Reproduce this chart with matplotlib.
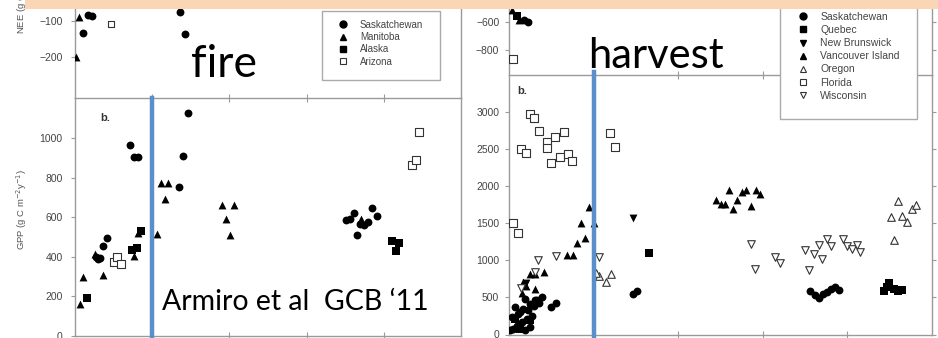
import matplotlib
matplotlib.use("Agg")
import matplotlib.pyplot as plt
from matplotlib.lines import Line2D
from matplotlib.patches import Rectangle

W, H = 938, 338

# ---------------- data: fire (left) ----------------
fire_nee_sask_x = [0.17, 0.22, 0.10, 1.36, 1.42]
fire_nee_sask_y = [-83, -86, -133, -75, -136]
fire_nee_mani_x = [0.05, 0.01]
fire_nee_mani_y = [-89, -200]
fire_nee_ariz_x = [0.47]
fire_nee_ariz_y = [-108]

fire_gpp_sask_x = [0.27, 0.30, 0.33, 0.36, 0.41, 0.71, 0.76, 0.81, 1.35, 1.40, 1.46,
                   3.51, 3.56, 3.61, 3.65, 3.69, 3.74, 3.79, 3.85, 3.91]
fire_gpp_sask_y = [400, 390, 395, 454, 497, 963, 903, 903, 751, 907, 1127,
                   585, 590, 619, 508, 564, 559, 576, 644, 605]
fire_gpp_mani_x = [0.065, 0.11, 0.36, 0.26, 0.76, 0.82, 1.06, 1.11, 1.16, 1.21,
                   1.90, 1.96, 2.01, 2.06, 3.71]
fire_gpp_mani_y = [161, 297, 310, 412, 402, 520, 513, 771, 690, 775,
                   664, 593, 508, 664, 593]
fire_gpp_alas_x = [0.16, 0.74, 0.80, 0.86, 4.10, 4.16, 4.20]
fire_gpp_alas_y = [192, 432, 444, 528, 478, 429, 471]
fire_gpp_ariz_x = [0.51, 0.54, 0.59, 4.36, 4.42, 4.46]
fire_gpp_ariz_y = [373, 398, 364, 864, 890, 1030]

fire_legend = ["Saskatchewan", "Manitoba", "Alaska", "Arizona"]

# ---------------- data: harvest (right) ----------------
harv_nee_sask_x = [0.18, 0.22]
harv_nee_sask_y = [-590, -600]
harv_nee_queb_x = [0.10]
harv_nee_queb_y = [-560]
harv_nee_vanc_x = [0.04, 0.12]
harv_nee_vanc_y = [-520, -590]
harv_nee_flor_x = [0.05]
harv_nee_flor_y = [-864]

harv_gpp_sask_x = [0.01, 0.05, 0.09, 0.15, 0.19, 0.21, 0.25, 0.11, 0.17, 0.25, 0.31, 0.39,
                   0.07, 0.03, 0.19, 0.27, 0.33, 0.50, 0.56, 0.13, 0.23, 0.29, 0.35,
                   1.46, 1.51,
                   3.56, 3.62, 3.66, 3.71, 3.76, 3.81, 3.85, 3.90]
harv_gpp_sask_y = [54, 76, 121, 166, 54, 211, 99, 279, 346, 404, 458, 503,
                   368, 234, 472, 247, 462, 373, 418, 300, 330, 380, 420,
                   539, 584,
                   584, 526, 494, 539, 570, 615, 638, 593]
harv_gpp_queb_x = [0.07, 0.13, 0.25, 1.65, 4.43, 4.47, 4.49, 4.55, 4.60, 4.65]
harv_gpp_queb_y = [211, 76, 189, 1096, 584, 640, 692, 615, 584, 602]
harv_gpp_nbru_x = [0.20, 1.46]
harv_gpp_nbru_y = [700, 1572]
harv_gpp_vanc_x = [0.15, 0.20, 0.25, 0.31, 0.41, 0.31, 0.17, 0.68, 0.76, 0.80, 0.90, 0.85,
                   0.95, 1.00, 2.45, 2.51, 2.55, 2.60, 2.65, 2.70, 2.75, 2.80, 2.86, 2.92, 2.97]
harv_gpp_vanc_y = [557, 650, 818, 818, 845, 607, 710, 1065, 1065, 1231, 1303, 1501,
                   1717, 1500, 1806, 1761, 1752, 1950, 1693, 1806, 1918, 1940, 1725, 1950, 1887]
harv_gpp_oreg_x = [1.06, 1.15, 1.21, 1.03, 4.51, 4.55, 4.60, 4.65, 4.71, 4.76, 4.81]
harv_gpp_oreg_y = [782, 706, 809, 830, 1581, 1267, 1797, 1594, 1514, 1693, 1747]
harv_gpp_flor_x = [0.25, 0.30, 0.35, 0.14, 0.20, 0.45, 0.45, 0.54, 0.65, 0.50, 0.60, 0.70,
                   0.75, 0.05, 0.11, 1.19, 1.25]
harv_gpp_flor_y = [2968, 2910, 2743, 2492, 2447, 2595, 2505, 2662, 2730, 2303, 2393, 2429,
                   2335, 1495, 1369, 2718, 2525]
harv_gpp_wisc_x = [0.14, 0.31, 0.34, 0.55, 1.06, 2.86, 2.91, 3.14, 3.20, 3.50, 3.55, 3.60,
                   3.66, 3.70, 3.76, 3.81, 3.95, 4.00, 4.05, 4.11, 4.15]
harv_gpp_wisc_y = [629, 845, 998, 1051, 1040, 1222, 877, 1042, 961, 1141, 871, 1087,
                   1200, 1020, 1289, 1186, 1289, 1186, 1155, 1200, 1110]

harv_legend = ["Saskatchewan", "Quebec", "New Brunswick", "Vancouver Island",
               "Oregon", "Florida", "Wisconsin"]

fire_yticks_top = [-200, -100]
fire_yticks_bot = [0, 200, 400, 600, 800, 1000]
harv_yticks_top = [-800, -600]
harv_yticks_bot = [0, 500, 1000, 1500, 2000, 2500, 3000]

# ---------------- figure ----------------
fig = plt.figure(figsize=(W / 100, H / 100), dpi=100)
fig.patch.set_facecolor("white")

def fx(px):
    return px / W

def fy(py):
    return 1 - py / H

def box(l, t, r, b):
    return [fx(l), fy(b), fx(r) - fx(l), fy(t) - fy(b)]

SPINE = "#9a9a9a"
LAB = "#444444"
TFONT = ["Liberation Sans", "DejaVu Sans"]

def style(ax):
    for s in ax.spines.values():
        s.set_color(SPINE)
        s.set_linewidth(1.0)
    ax.tick_params(colors=SPINE, labelcolor=LAB, labelsize=7.5, length=3, width=0.8)
    for lab in ax.get_yticklabels():
        lab.set_family(TFONT)
    ax.set_facecolor("none")

FILL = dict(color="black", s=32, linewidths=0, zorder=3)
OPEN = dict(facecolors="white", edgecolors="#333333", s=30, linewidths=0.8, zorder=3)

# left top (NEE fire)
axLT = fig.add_axes(box(75, -2, 461, 98))
axLT.set_xlim(0, 5)
axLT.set_ylim(-316, -36)
axLT.scatter(fire_nee_sask_x, fire_nee_sask_y, marker="o", **FILL)
axLT.scatter(fire_nee_mani_x, fire_nee_mani_y, marker="^", **FILL)
axLT.scatter(fire_nee_ariz_x, fire_nee_ariz_y, marker="s", **{**OPEN, "s": 22})
axLT.set_yticks(fire_yticks_top)
axLT.set_xticks([])
axLT.spines["bottom"].set_visible(False)
style(axLT)
axLT.tick_params(axis="y", pad=6)

# left bottom (GPP fire)
axLB = fig.add_axes(box(75, 98, 461, 336))
axLB.set_xlim(0, 5)
axLB.set_ylim(0, 1202)
axLB.scatter(fire_gpp_sask_x, fire_gpp_sask_y, marker="o", **FILL)
axLB.scatter(fire_gpp_mani_x, fire_gpp_mani_y, marker="^", **FILL)
axLB.scatter(fire_gpp_alas_x, fire_gpp_alas_y, marker="s", **{**FILL, "s": 26})
axLB.scatter(fire_gpp_ariz_x, fire_gpp_ariz_y, marker="s", **{**OPEN, "s": 26})
axLB.set_yticks(fire_yticks_bot)
axLB.set_xticks([1, 2, 3, 4])
axLB.set_xticklabels([])
style(axLB)
axLB.tick_params(axis="x", direction="inout", top=True, length=6)
axLB.tick_params(axis="y", pad=6)
axLB.axvline(1, ymin=-0.02, ymax=1.0, color="#5b8fca", lw=3.2, zorder=4, clip_on=False)
axLB.text(0.065, 0.905, "b.", transform=axLB.transAxes, fontsize=8, color="#333333",
          family=TFONT, fontweight="bold")

fig.text(fx(22), fy(210), "GPP (g C m$^{-2}$y$^{-1}$)", rotation=90, ha="center", va="center",
         fontsize=6.8, color="#555555", family=TFONT)
fig.text(fx(22), fy(34), "NEE (g C m$^{-2}$y$^{-1}$)", rotation=90, ha="center", va="bottom",
         fontsize=6.8, color="#555555", family=TFONT)

# right top (NEE harvest)
axRT = fig.add_axes(box(509, -2, 932, 75))
axRT.set_xlim(0, 5)
axRT.set_ylim(-977, -433)
axRT.scatter(harv_nee_sask_x, harv_nee_sask_y, marker="o", **FILL)
axRT.scatter(harv_nee_queb_x, harv_nee_queb_y, marker="s", **{**FILL, "s": 26})
axRT.scatter(harv_nee_vanc_x, harv_nee_vanc_y, marker="^", **FILL)
axRT.scatter(harv_nee_flor_x, harv_nee_flor_y, marker="s", **OPEN)
axRT.set_yticks(harv_yticks_top)
axRT.set_xticks([])
axRT.spines["bottom"].set_visible(False)
style(axRT)
axRT.tick_params(axis="y", right=True, pad=4)

# right bottom (GPP harvest)
axRB = fig.add_axes(box(509, 75, 932, 334.5))
axRB.set_xlim(0, 5)
axRB.set_ylim(0, 3494)
axRB.scatter(harv_gpp_sask_x, harv_gpp_sask_y, marker="o", **FILL)
axRB.scatter(harv_gpp_queb_x, harv_gpp_queb_y, marker="s", **{**FILL, "s": 26})
axRB.scatter(harv_gpp_nbru_x, harv_gpp_nbru_y, marker="v", **FILL)
axRB.scatter(harv_gpp_vanc_x, harv_gpp_vanc_y, marker="^", **FILL)
axRB.scatter(harv_gpp_oreg_x, harv_gpp_oreg_y, marker="^", **OPEN)
axRB.scatter(harv_gpp_flor_x, harv_gpp_flor_y, marker="s", **OPEN)
axRB.scatter(harv_gpp_wisc_x, harv_gpp_wisc_y, marker="v", **OPEN)
axRB.set_yticks(harv_yticks_bot)
axRB.set_xticks([1, 2, 3, 4])
axRB.set_xticklabels([])
style(axRB)
axRB.tick_params(axis="x", direction="inout", top=True, length=6)
axRB.tick_params(axis="y", right=True, pad=4)
axRB.axvline(1, ymin=-0.02, ymax=1.012, color="#5b8fca", lw=3.2, zorder=4, clip_on=False)
axRB.text(0.02, 0.925, "b.", transform=axRB.transAxes, fontsize=8, color="#333333",
          family=TFONT, fontweight="bold")

# legends
def mk(marker, filled):
    if filled:
        return Line2D([], [], ls="none", marker=marker, color="black", markersize=5)
    return Line2D([], [], ls="none", marker=marker, markerfacecolor="white",
                  markeredgecolor="#333333", markeredgewidth=0.8, markersize=5)

fig.patches.append(Rectangle((fx(322), fy(80)), fx(440) - fx(322), fy(11) - fy(80),
                             transform=fig.transFigure, fill=True, facecolor="white",
                             edgecolor="#aaaaaa", lw=1.0, zorder=5))
fire_handles = [mk("o", True), mk("^", True), mk("s", True), mk("s", False)]
lg1 = fig.legend(fire_handles, fire_legend, loc="upper left",
                 bbox_to_anchor=(fx(338), fy(19.5)), frameon=False,
                 labelspacing=0.25, handlelength=1.0, handletextpad=1.25,
                 borderpad=0, borderaxespad=0, labelcolor="#444444",
                 prop={"family": TFONT, "size": 7})
lg1.set_zorder(6)

fig.patches.append(Rectangle((fx(780), fy(119)), fx(917) - fx(780), fy(2) - fy(119),
                             transform=fig.transFigure, fill=True, facecolor="white",
                             edgecolor="#aaaaaa", lw=1.0, zorder=5))
harv_handles = [mk("o", True), mk("s", True), mk("v", True), mk("^", True),
                mk("^", False), mk("s", False), mk("v", False)]
lg2 = fig.legend(harv_handles, harv_legend, loc="upper left",
                 bbox_to_anchor=(fx(798), fy(12)), frameon=False,
                 labelspacing=0.3, handlelength=1.0, handletextpad=1.12,
                 borderpad=0, borderaxespad=0, labelcolor="#444444",
                 prop={"family": TFONT, "size": 7.5})
lg2.set_zorder(6)

# overlay annotations
BIG = ["Lato", "DejaVu Sans"]
fig.text(fx(224), fy(77), "fire", ha="center", va="baseline", fontsize=32,
         family=BIG, color="black", zorder=10)
fig.text(fx(656), fy(68), "harvest", ha="center", va="baseline", fontsize=30,
         family=BIG, color="black", zorder=10)
fig.text(fx(162), fy(310), "Armiro et al  GCB \u201811", ha="left", va="baseline",
         fontsize=20.5, family=BIG, color="black", zorder=10)

# peach banner
fig.patches.append(Rectangle((fx(25), fy(9)), 1 - fx(25), fy(0) - fy(9) + 0.01,
                             transform=fig.transFigure, facecolor="#fbd6b6",
                             edgecolor="none", zorder=20))

fig.savefig("out.png", dpi=100)
